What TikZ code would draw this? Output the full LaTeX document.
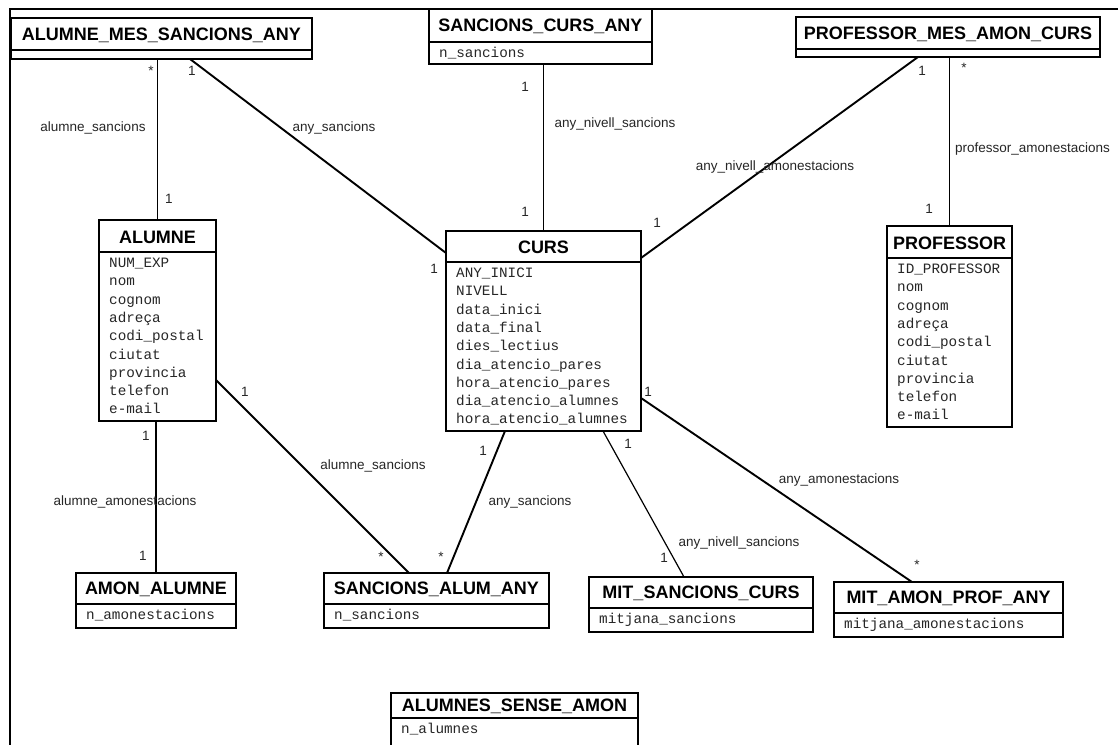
\documentclass[tikz,border=0pt]{standalone}
\usepackage{fontspec}
\usetikzlibrary{calc}
\newfontfamily\hdrfont{Liberation Sans}
\newfontfamily\lblfont{Liberation Sans}
\newfontfamily\attrfont{Liberation Mono}
\tikzset{
  ebox/.style={draw=black, line width=1.6pt, fill=white, inner sep=0pt, outer sep=0pt},
  ebline/.style={draw=black, line width=1.6pt},
  ehdr/.style={inner sep=0pt, font=\hdrfont\bfseries\fontsize{18}{20}\selectfont, text=black},
  eattr/.style={inner sep=0pt, anchor=west, text height=10pt, text depth=3pt, font=\attrfont\fontsize{14.3}{16}\selectfont, text=black!85},
  lbl/.style={inner sep=0pt, text height=9pt, text depth=3pt, font=\lblfont\fontsize{13.5}{15}\selectfont, text=black!85},
  thickc/.style={draw=black, line width=1.9pt},
  thinc/.style={draw=black, line width=1.2pt},
  frameline/.style={draw=black, line width=2.6pt},
}
\newcommand\entity[8]{%
  \node[ebox, anchor=north west, minimum width={(#4-#2)*1pt}, minimum height={(#5-#3)*1pt}] (#1) at (#2,#3) {};
  \draw[ebline] (#2,#6) -- (#4,#6);
  \node[ehdr] (#1-t) at ({(#2+#4)/2},{(#3+#6)/2+1}) {#7};
  \foreach \a [count=\i] in {#8} {\node[eattr] (#1-a\i) at ({#2+10},{#6+12+(\i-1)*18.3}) {\a};}
}
\begin{document}
\begin{tikzpicture}[x=1pt,y=-1pt]
\useasboundingbox (0,0) rectangle (1118,744);
\clip (0,0) rectangle (1118,744);
\fill[white] (0,0) rectangle (1118,744);
% frame
\draw[frameline] (10,760) -- (10,9) -- (1130,9);

% entities
\entity{amsa}{11}{18}{312}{59}{50}{ALUMNE\_MES\_SANCIONS\_ANY}{}
\entity{sca}{429}{9}{652}{64}{42}{SANCIONS\_CURS\_ANY}{n\_sancions}
\entity{pmac}{796}{17}{1100}{57}{49}{PROFESSOR\_MES\_AMON\_CURS}{}
\entity{alumne}{99}{220}{216}{421}{252}{ALUMNE}{NUM\_EXP,nom,cognom,adreça,codi\_postal,ciutat,provincia,telefon,e-mail}
\entity{curs}{446}{231}{641}{431}{262}{CURS}{ANY\_INICI,NIVELL,data\_inici,data\_final,dies\_lectius,dia\_atencio\_pares,hora\_atencio\_pares,dia\_atencio\_alumnes,hora\_atencio\_alumnes}
\entity{professor}{887}{226}{1012}{427}{258}{PROFESSOR}{ID\_PROFESSOR,nom,cognom,adreça,codi\_postal,ciutat,provincia,telefon,e-mail}
\entity{amonal}{76}{573}{236}{628}{604}{AMON\_ALUMNE}{n\_amonestacions}
\entity{saa}{324}{573}{549}{628}{604}{SANCIONS\_ALUM\_ANY}{n\_sancions}
\entity{msc}{589}{577}{813}{632}{608}{MIT\_SANCIONS\_CURS}{mitjana\_sancions}
\entity{mapa}{834}{582}{1063}{637}{613}{MIT\_AMON\_PROF\_ANY}{mitjana\_amonestacions}
\entity{asa}{391}{693}{638}{770}{718}{ALUMNES\_SENSE\_AMON}{n\_alumnes}

% connectors
\draw[thickc] (amsa.south -| alumne.north) -- (alumne.north);
\draw[thickc] ($(amsa.south west)+(179,0)$) -- ($(curs.north west)+(0,22)$);
\draw[thinc] (sca.south -| curs.north) -- (curs.north);
\draw[thickc] ($(pmac.south west)+(122,0)$) -- ($(curs.north east)+(0,27)$);
\draw[thinc] (pmac.south -| professor.north) -- (professor.north);
\draw[thickc] (alumne.south -| amonal.north) -- (amonal.north);
\draw[thickc] ($(alumne.south east)+(0,-41)$) -- ($(saa.north west)+(85,0)$);
\draw[thickc] ($(curs.south west)+(59,0)$) -- ($(saa.north west)+(123,0)$);
\draw[thinc] ($(curs.south west)+(157,0)$) -- ($(msc.north west)+(95,0)$);
\draw[thickc] ($(curs.south east)+(0,-33)$) -- ($(mapa.north west)+(78,0)$);

% labels
\node[lbl] (m1) at (151,72) {*};
\node[lbl] (m2) at (192,72) {1};
\node[lbl] (r1) at (93,128) {alumne\_sancions};
\node[lbl] (r2) at (334,128) {any\_sancions};
\node[lbl] (m3) at (169,200) {1};
\node[lbl] (m4) at (525,88) {1};
\node[lbl] (r3) at (615,124) {any\_nivell\_sancions};
\node[lbl] (m5) at (525,213) {1};
\node[lbl] (r4) at (775,167) {any\_nivell\_amonestacions};
\node[lbl] (m6) at (922,72) {1};
\node[lbl] (m7) at (964,69) {*};
\node[lbl, anchor=west] (r5) at (955,149) {professor\_amonestacions};
\node[lbl] (m8) at (929,210) {1};
\node[lbl] (m9) at (657,224) {1};
\node[lbl] (m10) at (434,270) {1};
\node[lbl] (m11) at (245,393) {1};
\node[lbl] (m12) at (146,437) {1};
\node[lbl] (r6) at (125,502) {alumne\_amonestacions};
\node[lbl] (m13) at (143,557) {1};
\node[lbl] (r7) at (373,466) {alumne\_sancions};
\node[lbl] (m14) at (381,558) {*};
\node[lbl] (m15) at (483,452) {1};
\node[lbl] (r8) at (530,502) {any\_sancions};
\node[lbl] (m16) at (441,558) {*};
\node[lbl] (m17) at (628,445) {1};
\node[lbl] (r9) at (739,543) {any\_nivell\_sancions};
\node[lbl] (m18) at (664,559) {1};
\node[lbl] (m19) at (648,393) {1};
\node[lbl] (r10) at (839,480) {any\_amonestacions};
\node[lbl] (m20) at (917,566) {*};
\end{tikzpicture}
\end{document}
